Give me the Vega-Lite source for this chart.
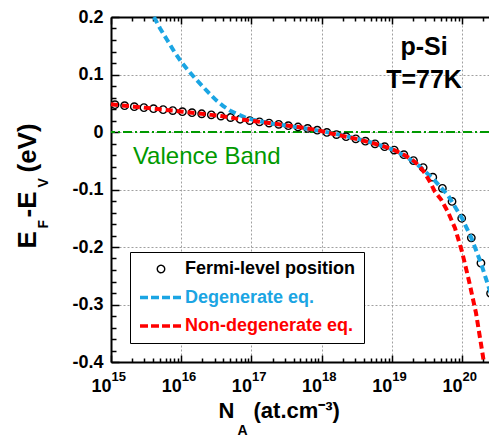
{
  "$schema": "https://vega.github.io/schema/vega-lite/v6.json",
  "width": 378,
  "height": 345,
  "autosize": {"type": "none"},
  "padding": {"left": 111, "top": 17, "right": 0, "bottom": 74},
  "background": "white",
  "config": {
    "view": {"stroke": null},
    "font": "Liberation Sans",
    "axis": {
      "labelFont": "Liberation Sans",
      "titleFont": "Liberation Sans",
      "labelFontWeight": "bold",
      "titleFontWeight": "bold",
      "labelColor": "black",
      "titleColor": "black",
      "domainColor": "black",
      "tickColor": "black",
      "gridColor": "#a0a0a0",
      "gridDash": [2, 2],
      "gridWidth": 1
    }
  },
  "datasets": {
    "circles": [
      {"NA": 1.14e15, "E": 0.0475, "series": "Fermi-level position"},
      {"NA": 1.563e15, "E": 0.0458, "series": "Fermi-level position"},
      {"NA": 2.148e15, "E": 0.0441, "series": "Fermi-level position"},
      {"NA": 2.944e15, "E": 0.0424, "series": "Fermi-level position"},
      {"NA": 4.036e15, "E": 0.0406, "series": "Fermi-level position"},
      {"NA": 5.534e15, "E": 0.0389, "series": "Fermi-level position"},
      {"NA": 7.586e15, "E": 0.0372, "series": "Fermi-level position"},
      {"NA": 1.04e16, "E": 0.0354, "series": "Fermi-level position"},
      {"NA": 1.426e16, "E": 0.0336, "series": "Fermi-level position"},
      {"NA": 1.959e16, "E": 0.0317, "series": "Fermi-level position"},
      {"NA": 2.685e16, "E": 0.0298, "series": "Fermi-level position"},
      {"NA": 3.681e16, "E": 0.0278, "series": "Fermi-level position"},
      {"NA": 5.047e16, "E": 0.0252, "series": "Fermi-level position"},
      {"NA": 6.918e16, "E": 0.0222, "series": "Fermi-level position"},
      {"NA": 9.484e16, "E": 0.0199, "series": "Fermi-level position"},
      {"NA": 1.303e17, "E": 0.0177, "series": "Fermi-level position"},
      {"NA": 1.786e17, "E": 0.0155, "series": "Fermi-level position"},
      {"NA": 2.449e17, "E": 0.0133, "series": "Fermi-level position"},
      {"NA": 3.357e17, "E": 0.011, "series": "Fermi-level position"},
      {"NA": 4.613e17, "E": 0.0087, "series": "Fermi-level position"},
      {"NA": 6.324e17, "E": 0.0062, "series": "Fermi-level position"},
      {"NA": 8.67e17, "E": 0.0032, "series": "Fermi-level position"},
      {"NA": 1.189e18, "E": -0.0008, "series": "Fermi-level position"},
      {"NA": 1.629e18, "E": -0.0045, "series": "Fermi-level position"},
      {"NA": 2.234e18, "E": -0.0082, "series": "Fermi-level position"},
      {"NA": 3.069e18, "E": -0.0118, "series": "Fermi-level position"},
      {"NA": 4.207e18, "E": -0.016, "series": "Fermi-level position"},
      {"NA": 5.768e18, "E": -0.0205, "series": "Fermi-level position"},
      {"NA": 7.907e18, "E": -0.0255, "series": "Fermi-level position"},
      {"NA": 1.084e19, "E": -0.0315, "series": "Fermi-level position"},
      {"NA": 1.486e19, "E": -0.0395, "series": "Fermi-level position"},
      {"NA": 2.037e19, "E": -0.0497, "series": "Fermi-level position"},
      {"NA": 2.799e19, "E": -0.0618, "series": "Fermi-level position"},
      {"NA": 3.837e19, "E": -0.0785, "series": "Fermi-level position"},
      {"NA": 5.26e19, "E": -0.098, "series": "Fermi-level position"},
      {"NA": 7.211e19, "E": -0.1207, "series": "Fermi-level position"},
      {"NA": 9.908e19, "E": -0.15, "series": "Fermi-level position"},
      {"NA": 1.358e20, "E": -0.184, "series": "Fermi-level position"},
      {"NA": 1.862e20, "E": -0.228, "series": "Fermi-level position"},
      {"NA": 2.553e20, "E": -0.2805, "series": "Fermi-level position"}
    ],
    "red": [
      {"NA": 1e15, "E": 0.0483, "series": "Non-degenerate eq."},
      {"NA": 1.14e15, "E": 0.0475, "series": "Non-degenerate eq."},
      {"NA": 1.563e15, "E": 0.0458, "series": "Non-degenerate eq."},
      {"NA": 2.148e15, "E": 0.0441, "series": "Non-degenerate eq."},
      {"NA": 2.944e15, "E": 0.0424, "series": "Non-degenerate eq."},
      {"NA": 4.036e15, "E": 0.0406, "series": "Non-degenerate eq."},
      {"NA": 5.534e15, "E": 0.0389, "series": "Non-degenerate eq."},
      {"NA": 7.586e15, "E": 0.0372, "series": "Non-degenerate eq."},
      {"NA": 1.04e16, "E": 0.0354, "series": "Non-degenerate eq."},
      {"NA": 1.426e16, "E": 0.0336, "series": "Non-degenerate eq."},
      {"NA": 1.959e16, "E": 0.0317, "series": "Non-degenerate eq."},
      {"NA": 2.685e16, "E": 0.0298, "series": "Non-degenerate eq."},
      {"NA": 3.681e16, "E": 0.0278, "series": "Non-degenerate eq."},
      {"NA": 5.047e16, "E": 0.0252, "series": "Non-degenerate eq."},
      {"NA": 6.918e16, "E": 0.0222, "series": "Non-degenerate eq."},
      {"NA": 9.484e16, "E": 0.0199, "series": "Non-degenerate eq."},
      {"NA": 1.303e17, "E": 0.0177, "series": "Non-degenerate eq."},
      {"NA": 1.786e17, "E": 0.0155, "series": "Non-degenerate eq."},
      {"NA": 2.449e17, "E": 0.0133, "series": "Non-degenerate eq."},
      {"NA": 3.357e17, "E": 0.011, "series": "Non-degenerate eq."},
      {"NA": 4.613e17, "E": 0.0087, "series": "Non-degenerate eq."},
      {"NA": 6.324e17, "E": 0.0062, "series": "Non-degenerate eq."},
      {"NA": 8.67e17, "E": 0.0032, "series": "Non-degenerate eq."},
      {"NA": 1.189e18, "E": -0.0008, "series": "Non-degenerate eq."},
      {"NA": 1.629e18, "E": -0.0045, "series": "Non-degenerate eq."},
      {"NA": 2.234e18, "E": -0.0082, "series": "Non-degenerate eq."},
      {"NA": 3.069e18, "E": -0.0118, "series": "Non-degenerate eq."},
      {"NA": 4.207e18, "E": -0.016, "series": "Non-degenerate eq."},
      {"NA": 5.768e18, "E": -0.0205, "series": "Non-degenerate eq."},
      {"NA": 7.907e18, "E": -0.0255, "series": "Non-degenerate eq."},
      {"NA": 1.084e19, "E": -0.0315, "series": "Non-degenerate eq."},
      {"NA": 1.486e19, "E": -0.0395, "series": "Non-degenerate eq."},
      {"NA": 2.037e19, "E": -0.05, "series": "Non-degenerate eq."},
      {"NA": 2.512e19, "E": -0.06, "series": "Non-degenerate eq."},
      {"NA": 2.972e19, "E": -0.072, "series": "Non-degenerate eq."},
      {"NA": 3.548e19, "E": -0.088, "series": "Non-degenerate eq."},
      {"NA": 4.121e19, "E": -0.104, "series": "Non-degenerate eq."},
      {"NA": 5.012e19, "E": -0.117, "series": "Non-degenerate eq."},
      {"NA": 6.31e19, "E": -0.139, "series": "Non-degenerate eq."},
      {"NA": 7.943e19, "E": -0.167, "series": "Non-degenerate eq."},
      {"NA": 1e20, "E": -0.208, "series": "Non-degenerate eq."},
      {"NA": 1.259e20, "E": -0.259, "series": "Non-degenerate eq."},
      {"NA": 1.585e20, "E": -0.315, "series": "Non-degenerate eq."},
      {"NA": 1.995e20, "E": -0.391, "series": "Non-degenerate eq."},
      {"NA": 2.04e20, "E": -0.4, "series": "Non-degenerate eq."}
    ],
    "blue": [
      {"NA": 4.09e15, "E": 0.2, "series": "Degenerate eq."},
      {"NA": 5.01e15, "E": 0.18, "series": "Degenerate eq."},
      {"NA": 6.31e15, "E": 0.16, "series": "Degenerate eq."},
      {"NA": 7.94e15, "E": 0.14, "series": "Degenerate eq."},
      {"NA": 1e16, "E": 0.122, "series": "Degenerate eq."},
      {"NA": 1.259e16, "E": 0.107, "series": "Degenerate eq."},
      {"NA": 1.585e16, "E": 0.093, "series": "Degenerate eq."},
      {"NA": 1.995e16, "E": 0.08, "series": "Degenerate eq."},
      {"NA": 2.512e16, "E": 0.067, "series": "Degenerate eq."},
      {"NA": 3.162e16, "E": 0.055, "series": "Degenerate eq."},
      {"NA": 3.981e16, "E": 0.045, "series": "Degenerate eq."},
      {"NA": 5.012e16, "E": 0.037, "series": "Degenerate eq."},
      {"NA": 6.31e16, "E": 0.031, "series": "Degenerate eq."},
      {"NA": 7.943e16, "E": 0.026, "series": "Degenerate eq."},
      {"NA": 1e17, "E": 0.022, "series": "Degenerate eq."},
      {"NA": 1.778e17, "E": 0.0155, "series": "Degenerate eq."},
      {"NA": 3.162e17, "E": 0.011, "series": "Degenerate eq."},
      {"NA": 5.623e17, "E": 0.0065, "series": "Degenerate eq."},
      {"NA": 1e18, "E": 0.0015, "series": "Degenerate eq."},
      {"NA": 1.778e18, "E": -0.0045, "series": "Degenerate eq."},
      {"NA": 3.162e18, "E": -0.0115, "series": "Degenerate eq."},
      {"NA": 5.623e18, "E": -0.0195, "series": "Degenerate eq."},
      {"NA": 1e19, "E": -0.03, "series": "Degenerate eq."},
      {"NA": 1.585e19, "E": -0.0425, "series": "Degenerate eq."},
      {"NA": 2.512e19, "E": -0.06, "series": "Degenerate eq."},
      {"NA": 3.981e19, "E": -0.083, "series": "Degenerate eq."},
      {"NA": 6.31e19, "E": -0.11, "series": "Degenerate eq."},
      {"NA": 1e20, "E": -0.15, "series": "Degenerate eq."},
      {"NA": 1.358e20, "E": -0.184, "series": "Degenerate eq."},
      {"NA": 1.862e20, "E": -0.228, "series": "Degenerate eq."},
      {"NA": 2.57e20, "E": -0.281, "series": "Degenerate eq."}
    ],
    "notes": [
      {"NA": 2.88e19, "E": 0.134, "label": "p-Si"},
      {"NA": 2.88e19, "E": 0.076, "label": "T=77K"}
    ],
    "band": [
      {"NA": 2.05e15, "E": -0.0557, "label": "Valence Band"}
    ]
  },
  "layer": [
    {
      "data": {"values": [{"E": 0}]},
      "mark": {"type": "rule", "color": "#009900", "strokeWidth": 2, "strokeDash": [9, 3, 2, 3]},
      "encoding": {
        "y": {
          "field": "E", "type": "quantitative",
          "scale": {"domain": [-0.4, 0.2], "nice": false, "zero": false},
          "axis": {"orient": "left", "labels": false, "ticks": false, "domain": false, "grid": false,
                   "title": "V", "titleFontSize": 14, "titleAngle": -90, "titleAlign": "left", "titleBaseline": "alphabetic",
                   "titleX": -64, "titleY": 170}
        }
      }
    },
    {
      "data": {"name": "circles"},
      "mark": {"type": "point", "shape": "circle", "size": 55, "fill": "white", "filled": true, "strokeWidth": 1.4, "opacity": 1},
      "encoding": {
        "x": {
          "field": "NA", "type": "quantitative",
          "scale": {"type": "log", "domain": [1e15, 2.425e20], "nice": false},
          "axis": {
            "orient": "bottom",
            "values": [1e15,2e15,3e15,4e15,5e15,6e15,7e15,8e15,9e15,1e16,2e16,3e16,4e16,5e16,6e16,7e16,8e16,9e16,1e17,2e17,3e17,4e17,5e17,6e17,7e17,8e17,9e17,1e18,2e18,3e18,4e18,5e18,6e18,7e18,8e18,9e18,1e19,2e19,3e19,4e19,5e19,6e19,7e19,8e19,9e19,1e20,2e20],
            "labelExpr": "abs(log(datum.value)/LN10 - round(log(datum.value)/LN10)) < 0.001 ? '10' : ''",
            "labelFontSize": 18, "labelAlign": "right", "labelDx": 4, "labelBaseline": "alphabetic", "labelPadding": 36,
            "labelOverlap": false, "labelFlush": false, "labelBound": false,
            "tickSize": {"condition": {"test": "abs(log(datum.value)/LN10 - round(log(datum.value)/LN10)) < 0.001", "value": -7}, "value": -4},
            "tickWidth": 1.5, "domainWidth": 2,
            "grid": true,
            "gridOpacity": {"condition": {"test": "abs(log(datum.value)/LN10 - round(log(datum.value)/LN10)) < 0.001", "value": 1}, "value": 0},
            "title": "N", "titleFontSize": 22, "titleX": 107, "titleY": 55, "titleAlign": "left", "titleBaseline": "alphabetic", "titleAngle": 0
          }
        },
        "y": {
          "field": "E", "type": "quantitative",
          "scale": {"domain": [-0.4, 0.2], "nice": false, "zero": false},
          "axis": {
            "orient": "left",
            "values": [-0.4,-0.38,-0.36,-0.34,-0.32,-0.3,-0.28,-0.26,-0.24,-0.22,-0.2,-0.18,-0.16,-0.14,-0.12,-0.1,-0.08,-0.06,-0.04,-0.02,0,0.02,0.04,0.06,0.08,0.1,0.12,0.14,0.16,0.18,0.2],
            "labelExpr": "abs(datum.value*10 - round(datum.value*10)) < 0.001 ? '' + round(datum.value*10)/10 : ''",
            "labelFontSize": 18, "labelAlign": "right", "labelBaseline": "middle", "labelPadding": 16,
            "labelOverlap": false, "labelFlush": false, "labelBound": false,
            "tickSize": {"condition": {"test": "abs(datum.value*10 - round(datum.value*10)) < 0.001", "value": -8}, "value": -5},
            "tickWidth": 1.5, "domainWidth": 2,
            "grid": true,
            "gridOpacity": {"condition": {"test": "abs(datum.value*10 - round(datum.value*10)) < 0.001", "value": 1}, "value": 0},
            "title": "E", "titleFontSize": 26, "titleAngle": -90, "titleAlign": "left", "titleBaseline": "alphabetic",
            "titleX": -76, "titleY": 231
          }
        },
        "stroke": {
          "field": "series", "type": "nominal",
          "scale": {"domain": ["Fermi-level position", "Degenerate eq.", "Non-degenerate eq."], "range": ["#000000", "#1ba5e3", "#ff0000"]},
          "legend": {
            "orient": "none", "legendX": 19, "legendY": 235, "title": null, "direction": "vertical",
            "padding": 8, "strokeColor": "black", "fillColor": "white",
            "labelFont": "Liberation Sans", "labelFontSize": 18, "labelFontWeight": "bold",
            "labelColor": {"expr": "scale('stroke', datum.value)"},
            "clipHeight": 18, "rowPadding": 10.5, "labelOffset": 1, "labelLimit": 400,
            "symbolType": {"expr": "(datum.value === 'Fermi-level position' ? 'circle' : 'M-1,0H1')"},
            "symbolSize": {"expr": "(datum.value === 'Fermi-level position' ? 55 : 1764)"},
            "symbolDash": {"expr": "(datum.value === 'Fermi-level position' ? [1, 0] : [8, 3])"},
            "symbolStrokeWidth": {"expr": "(datum.value === 'Fermi-level position' ? 1.4 : 3.5)"},
            "symbolFillColor": "white",
            "symbolOpacity": 1
          }
        }
      }
    },
    {
      "data": {"name": "blue"},
      "mark": {"type": "line", "strokeWidth": 4, "strokeDash": [7, 4]},
      "encoding": {
        "x": {
          "field": "NA", "type": "quantitative",
          "scale": {"type": "log", "domain": [1e15, 2.425e20], "nice": false},
          "axis": {
            "orient": "top",
            "values": [1e15,2e15,3e15,4e15,5e15,6e15,7e15,8e15,9e15,1e16,2e16,3e16,4e16,5e16,6e16,7e16,8e16,9e16,1e17,2e17,3e17,4e17,5e17,6e17,7e17,8e17,9e17,1e18,2e18,3e18,4e18,5e18,6e18,7e18,8e18,9e18,1e19,2e19,3e19,4e19,5e19,6e19,7e19,8e19,9e19,1e20,2e20],
            "labels": false, "grid": false,
            "tickSize": {"condition": {"test": "abs(log(datum.value)/LN10 - round(log(datum.value)/LN10)) < 0.001", "value": -7}, "value": -4},
            "tickWidth": 1.5, "domainWidth": 2,
            "title": "(at.cm⁻³)", "titleFontSize": 22, "titleX": 142, "titleY": 400, "titleAlign": "left", "titleBaseline": "alphabetic", "titleAngle": 0
          }
        },
        "y": {
          "field": "E", "type": "quantitative",
          "scale": {"domain": [-0.4, 0.2], "nice": false, "zero": false},
          "axis": {"orient": "left", "labels": false, "ticks": false, "domain": false, "grid": false,
                   "title": "-E", "titleFontSize": 26, "titleAngle": -90, "titleAlign": "left", "titleBaseline": "alphabetic",
                   "titleX": -76, "titleY": 200}
        },
        "stroke": {"field": "series", "type": "nominal"}
      }
    },
    {
      "data": {"name": "red"},
      "mark": {"type": "line", "strokeWidth": 4, "strokeDash": [7, 4]},
      "encoding": {
        "x": {
          "field": "NA", "type": "quantitative",
          "scale": {"type": "log", "domain": [1e15, 2.425e20], "nice": false},
          "axis": {
            "orient": "bottom",
            "values": [1e15, 1e16, 1e17, 1e18, 1e19, 1e20],
            "labelExpr": "'' + round(log(datum.value)/LN10)",
            "labelFontSize": 13, "labelAlign": "left", "labelDx": 6, "labelBaseline": "alphabetic", "labelPadding": 18,
            "labelOverlap": false, "labelFlush": false, "labelBound": false,
            "ticks": false, "domain": false, "grid": false,
            "title": "A", "titleFontSize": 14, "titleX": 126, "titleY": 72, "titleAlign": "left", "titleBaseline": "alphabetic", "titleAngle": 0
          }
        },
        "y": {
          "field": "E", "type": "quantitative",
          "scale": {"domain": [-0.4, 0.2], "nice": false, "zero": false},
          "axis": {"orient": "left", "labels": false, "ticks": false, "domain": false, "grid": false,
                   "title": "F", "titleFontSize": 14, "titleAngle": -90, "titleAlign": "left", "titleBaseline": "alphabetic",
                   "titleX": -64, "titleY": 211}
        },
        "stroke": {"field": "series", "type": "nominal"}
      }
    },
    {
      "data": {"name": "notes"},
      "mark": {"type": "text", "fontSize": 25, "fontWeight": "bold", "align": "center", "baseline": "alphabetic", "color": "black", "font": "Liberation Sans"},
      "encoding": {
        "x": {"field": "NA", "type": "quantitative", "scale": {"type": "log", "domain": [1e15, 2.425e20], "nice": false}, "axis": null},
        "y": {
          "field": "E", "type": "quantitative",
          "scale": {"domain": [-0.4, 0.2], "nice": false, "zero": false},
          "axis": {"orient": "left", "labels": false, "ticks": false, "domain": false, "grid": false,
                   "title": "(eV)", "titleFontSize": 26, "titleAngle": -90, "titleAlign": "left", "titleBaseline": "alphabetic",
                   "titleX": -76, "titleY": 155}
        },
        "text": {"field": "label"}
      }
    },
    {
      "data": {"name": "band"},
      "mark": {"type": "text", "fontSize": 24, "align": "left", "baseline": "alphabetic", "color": "#009900", "font": "Liberation Sans"},
      "encoding": {
        "x": {"field": "NA", "type": "quantitative", "scale": {"type": "log", "domain": [1e15, 2.425e20], "nice": false}, "axis": null},
        "y": {"field": "E", "type": "quantitative", "scale": {"domain": [-0.4, 0.2], "nice": false, "zero": false}, "axis": null},
        "text": {"field": "label"}
      }
    }
  ],
  "resolve": {"axis": {"x": "independent", "y": "independent"}}
}
